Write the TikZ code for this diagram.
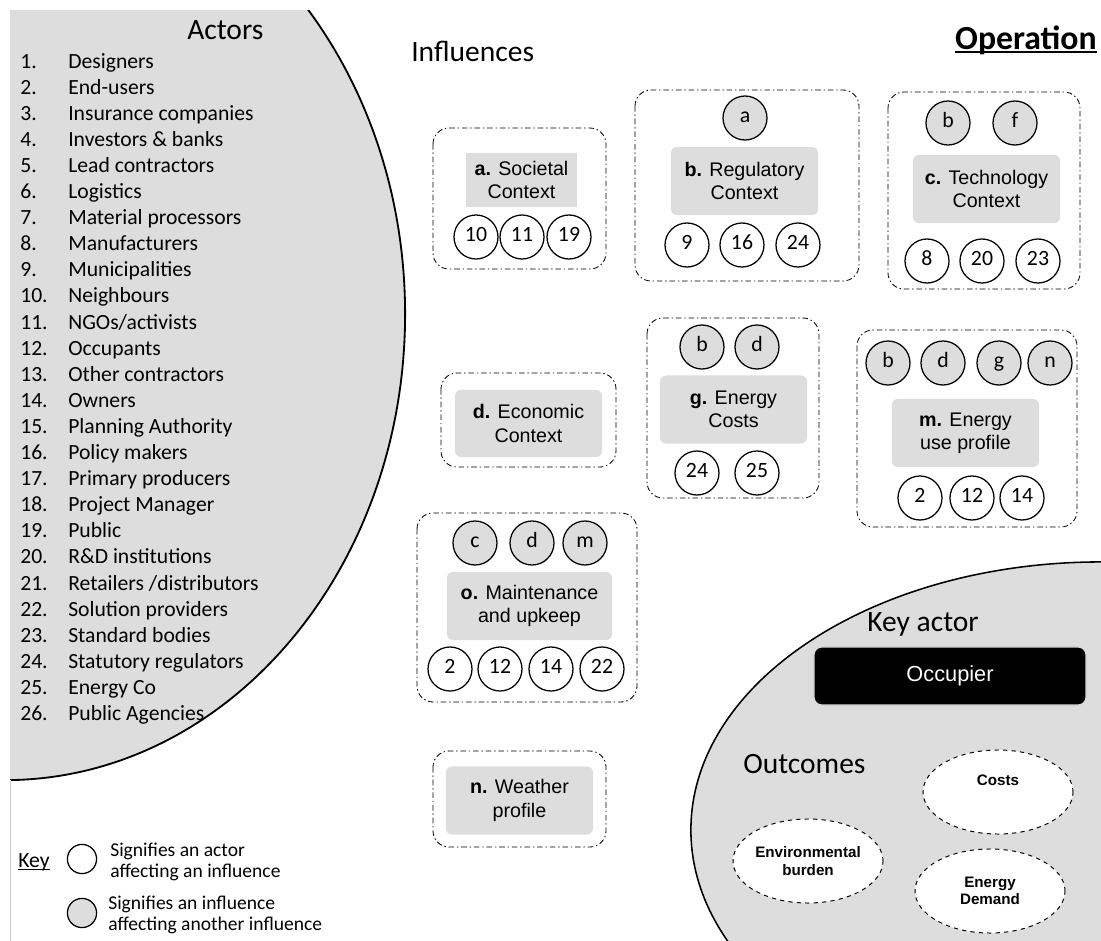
\documentclass[tikz,border=0pt]{standalone}
\usepackage{fontspec}
\setmainfont{Carlito}
\newfontfamily\helv{Liberation Sans}
\usetikzlibrary{shapes.geometric}
\definecolor{panel}{HTML}{DDDDDD}

\begin{document}
\begin{tikzpicture}[x=0.025cm, y=-0.025cm,
    actor/.style={circle, draw, line width=0.9pt, fill=white, minimum size=1.1cm, inner sep=0pt, text height=0.66em, text depth=0pt, font=\fontsize{15.5}{15.5}\selectfont},
    infl/.style={actor, fill=panel},
    grp/.style={line width=0.6pt, dash pattern=on 4pt off 2pt on 1pt off 2pt, rounded corners=0.4cm},
    lbl/.style={fill=panel, rounded corners=0.15cm, align=center, minimum width=3.675cm, minimum height=1.7cm, inner sep=0pt, font=\helv\fontsize{14}{16.5}\selectfont},
    head/.style={anchor=base west, inner sep=0pt, font=\fontsize{21}{21}\selectfont},
    item/.style={anchor=base west, inner sep=0pt, font=\fontsize{15.4}{15.4}\selectfont},
    outc/.style={ellipse, draw, dashed, fill=white, line width=0.7pt, minimum width=3.75cm, minimum height=2.1cm, inner sep=0pt, align=center, font=\helv\bfseries\fontsize{10.8}{12.5}\selectfont}]
    \useasboundingbox (0,0) rectangle (1101,941);

    % actors panel on the left
    \begin{scope}
    \clip (10,10) rectangle (1101,941);
    \draw[fill=panel, line width=1.3pt] (5,314) ellipse [x radius=10cm, y radius=11.65cm];
    \end{scope}
    \draw[black!20, line width=0.5pt] (10,780) -- (10,941);
    \node[head] (actors) at (187,39) {Actors};
    \foreach \t [count=\n] in {Designers, End-users, Insurance companies, Investors \& banks,
        Lead contractors, Logistics, Material processors, Manufacturers, Municipalities,
        Neighbours, NGOs/activists, Occupants, Other contractors, Owners, Planning Authority,
        Policy makers, Primary producers, Project Manager, Public, R\&D institutions,
        Retailers /distributors, Solution providers, Standard bodies, Statutory regulators,
        Energy Co, Public Agencies}
    {
        \node[item] (num\n) at (20,{68+26.1*(\n-1)}) {\n.};
        \node[item] (name\n) at (68,{68+26.1*(\n-1)}) {\t};
    }

    % key actor panel
    \begin{scope}
    \clip (0,0) rectangle (1101,941);
    \draw[fill=panel, line width=1.1pt] (1101,830) ellipse [x radius=10.25cm, y radius=6.7cm];
    \end{scope}

    \node[head] (infl) at (411,61) {Influences};
    \node[anchor=base east, inner sep=0pt, font=\bfseries\fontsize{24}{24}\selectfont] (oper) at (1097,49) {Operation};
    \draw[line width=1.3pt] ([yshift=-2pt]oper.base west) -- ([yshift=-2pt]oper.base east);

    % a. societal
    \draw[grp] (433,128) rectangle (606,269);
    \node[lbl, rounded corners=0pt, minimum width=2.775cm, minimum height=1.35cm] (soc) at (521.5,180) {\textbf{a.} Societal\\Context};
    \foreach \t/\x in {10/476, 11/522, 19/569}
        \node[actor] (soc\t) at (\x,237) {\t};

    % b. regulatory
    \draw[grp] (635,90) rectangle (859,281);
    \node[infl] (reg-a) at (745,118) {a};
    \node[lbl] (reg) at (744.5,181) {\textbf{b.} Regulatory\\Context};
    \foreach \t/\x in {9/687, 16/742, 24/798}
        \node[actor] (reg\t) at (\x,245) {\t};

    % c. technology
    \draw[grp] (888,92) rectangle (1080,289);
    \foreach \t/\x in {b/948, f/1015}
        \node[infl] (tec-\t) at (\x,123) {\t};
    \node[lbl] (tec) at (986.5,189) {\textbf{c.} Technology\\Context};
    \foreach \t/\x in {8/927, 20/982, 23/1038}
        \node[actor] (tec\t) at (\x,261) {\t};

    % d. economic
    \draw[grp] (441,373) rectangle (616,467);
    \node[lbl, minimum height=1.675cm] (eco) at (528.5,423.5) {\textbf{d.} Economic\\Context};

    % g. energy costs
    \draw[grp] (647,318) rectangle (819,498);
    \foreach \t/\x in {b/702, d/757}
        \node[infl] (enc-\t) at (\x,347) {\t};
    \node[lbl] (enc) at (733.5,409.5) {\textbf{g.} Energy\\Costs};
    \foreach \t/\x in {24/697, 25/757}
        \node[actor] (enc\t) at (\x,473) {\t};

    % m. energy use profile
    \draw[grp] (857,330) rectangle (1077,527);
    \foreach \t/\x in {b/888, d/943, g/999, n/1050}
        \node[infl] (use-\t) at (\x,363) {\t};
    \node[lbl] (use) at (965.5,433) {\textbf{m.} Energy\\use profile};
    \foreach \t/\x in {2/920, 12/972, 14/1022}
        \node[actor] (use\t) at (\x,498) {\t};

    % o. maintenance
    \draw[grp] (417,513) rectangle (637,702);
    \foreach \t/\x in {c/475, d/532, m/585}
        \node[infl] (mnt-\t) at (\x,543) {\t};
    \node[lbl, minimum width=4.125cm] (mnt) at (529.5,606) {\textbf{o.} Maintenance\\and upkeep};
    \foreach \t/\x in {2/450, 12/500, 14/551, 22/602}
        \node[actor] (mnt\t) at (\x,669) {\t};

    % n. weather
    \draw[grp] (433,751) rectangle (606,847);
    \node[lbl] (wea) at (519.5,800.5) {\textbf{n.} Weather\\profile};

    % key actor and outcomes
    \node[head] (keyact) at (867,631) {Key actor};
    \node[fill=black, draw=black!15, line width=0.8pt, rounded corners=0.2cm, minimum width=6.8cm, minimum height=1.45cm, text=white, font=\helv\fontsize{15.5}{15.5}\selectfont] (occ) at (950,676) {Occupier};
    \node[head] (outcomes) at (743,773) {Outcomes};
    \node[outc] (costs) at (998,792) {Costs\\[4pt]};
    \node[outc] (envb) at (808,861) {Environmental\\burden};
    \node[outc] (endem) at (990,891) {Energy\\Demand};

    % key
    \node[item] (key) at (18,867) {Key};
    \draw[line width=0.6pt] ([yshift=-1.5pt]key.base west) -- ([yshift=-1.5pt]key.base east);
    \node[actor, minimum size=0.73cm] (keyact1) at (82,859) {};
    \node[infl, minimum size=0.73cm] (keyinf1) at (82,913) {};
    \node[anchor=west, align=left, inner sep=0pt, font=\fontsize{13.9}{15}\selectfont] (keytxt1) at (110,862) {Signifies an actor\\affecting an influence};
    \node[anchor=west, align=left, inner sep=0pt, font=\fontsize{13.9}{15}\selectfont] (keytxt2) at (108,915) {Signifies an influence\\affecting another influence};
\end{tikzpicture}
\end{document}
